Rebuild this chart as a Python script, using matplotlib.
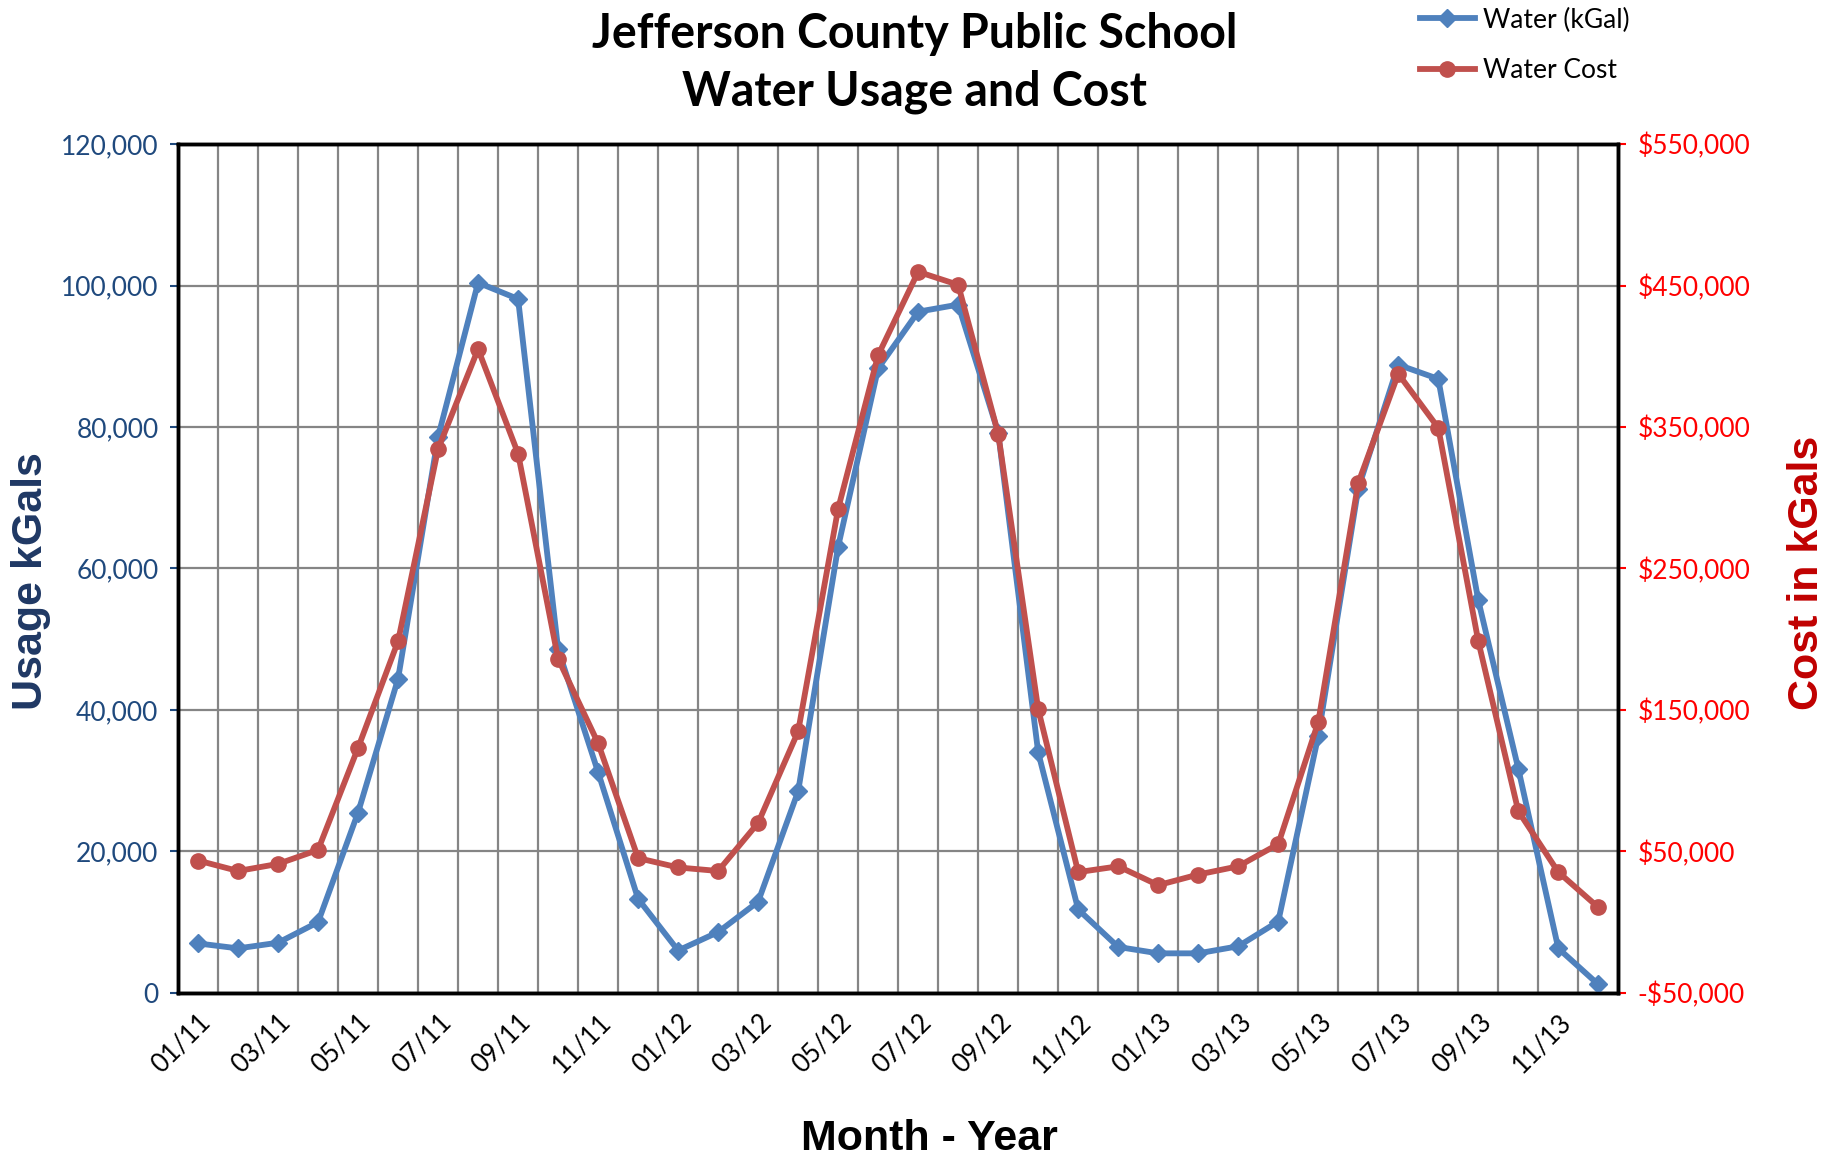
import matplotlib
matplotlib.use("Agg")
import matplotlib.pyplot as plt
from matplotlib.ticker import FuncFormatter, FixedLocator

months = [f"{m:02d}/{y}" for y in (11, 12, 13) for m in range(1, 13)]

water_kgal = [7000, 6300, 7100, 10000, 25500, 44400, 78600, 100400, 98100, 48600, 31200, 13300,
              6000, 8600, 12900, 28500, 63100, 88300, 96300, 97300, 79200, 34000, 11800, 6500,
              5600, 5600, 6600, 10100, 36300, 71300, 88800, 86800, 55500, 31700, 6300, 1200]

water_cost = [43600, 36200, 41200, 51100, 123200, 198600, 334500, 405000, 331200, 186200, 126500, 45300,
              38700, 36200, 70200, 134800, 292300, 400800, 459700, 450500, 345300, 150500, 35400, 39500,
              26200, 33700, 39500, 55200, 141400, 310500, 387600, 349400, 198600, 78500, 35400, 10500]

BLUE = "#4F81BD"
RED = "#C0504D"
FONT = ["Lato", "DejaVu Sans"]
HEAVY = ["Liberation Sans", "DejaVu Sans"]

plt.rcParams["font.family"] = FONT

fig = plt.figure(figsize=(18.39, 11.55), dpi=100)
ax = fig.add_axes([0.0968, 0.1403, 0.7832, 0.735])
ax2 = ax.twinx()

x = list(range(len(months)))
l1, = ax.plot(x, water_kgal, "-D", color=BLUE, lw=4.2, ms=9, zorder=3, label="Water (kGal)")
l2, = ax2.plot(x, water_cost, "-o", color=RED, lw=4.2, ms=11, zorder=4, label="Water Cost")

ax.set_xlim(-0.5, len(months) - 0.5)
ax.set_ylim(0, 120000)
ax2.set_ylim(-50000, 550000)
ax.set_yticks(range(0, 120001, 20000))
ax2.set_yticks(range(-50000, 550001, 100000))
ax.yaxis.set_major_formatter(FuncFormatter(lambda v, p: f"{int(v):,}"))
ax2.yaxis.set_major_formatter(FuncFormatter(lambda v, p: f"-${abs(int(v)):,}" if v < 0 else f"${int(v):,}"))

# gridlines on category boundaries, labels on every other category
ax.xaxis.set_minor_locator(FixedLocator([i - 0.5 for i in range(len(months) + 1)]))
ax.set_xticks(x[::2])
ax.set_xticklabels(months[::2], rotation=45, ha="right", rotation_mode="anchor", fontsize=18.5)
ax.tick_params(axis="x", which="major", length=0, pad=12)
ax.tick_params(axis="x", which="minor", length=0)
ax.grid(axis="x", which="minor", color="#858585", lw=1.6)
ax.grid(axis="y", which="major", color="#858585", lw=1.6)
ax.set_axisbelow(True)

ax.tick_params(axis="y", colors="#1F497D", labelsize=19, length=6, width=1.5, pad=8)
ax2.tick_params(axis="y", colors="#FF0000", labelsize=19, length=6, width=1.5, pad=8)
for a in (ax, ax2):
    for s in a.spines.values():
        s.set_linewidth(2.5)
        s.set_color("black")

ax.set_ylabel("Usage kGals", fontsize=31, fontweight="bold", color="#1F3864", family=HEAVY)
ax.yaxis.set_label_coords(-0.088, 0.485)
ax2.set_ylabel("Cost in kGals", fontsize=31, fontweight="bold", color="#C00000", family=HEAVY, rotation=90)
ax2.yaxis.set_label_coords(1.117, 0.495)
ax.set_xlabel("Month - Year", fontsize=31, fontweight="bold", color="black", family=HEAVY)
ax.xaxis.set_label_coords(0.522, -0.148)

fig.text(0.4975, 0.99, "Jefferson County Public School\nWater Usage and Cost", ha="center", va="top",
         fontsize=33.5, fontweight="bold", linespacing=1.4)

fig.legend(handles=[l1, l2], loc="upper left", bbox_to_anchor=(0.759, 1.014), frameon=False,
           fontsize=19, handlelength=2.1, labelspacing=0.95, handletextpad=0.3)

fig.savefig("out.png", dpi=100)
